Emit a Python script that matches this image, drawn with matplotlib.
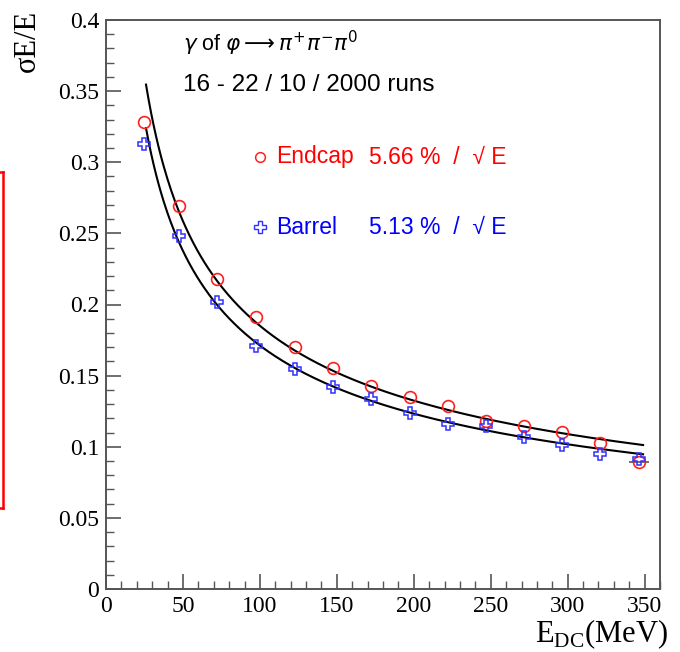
import numpy as np
import matplotlib
matplotlib.use("Agg")
import matplotlib.pyplot as plt
from matplotlib.ticker import MultipleLocator, FuncFormatter
from matplotlib.lines import Line2D

# ---- data ----
energy = [25, 47.5, 72, 97.5, 122.5, 147.5, 172.5, 197.5, 222, 247, 271.5, 296.5, 321, 346.5]
endcap_res = [0.328, 0.269, 0.218, 0.191, 0.1703, 0.1551, 0.1427, 0.1348, 0.1286,
              0.1181, 0.1146, 0.1104, 0.1026, 0.0895]
barrel_res = [0.3126, 0.2484, 0.202, 0.171, 0.1544, 0.1418, 0.1333, 0.1238, 0.116,
              0.1143, 0.1066, 0.1014, 0.0946, 0.0914]
last_point_xerr = 6.5

# fit curves: sigma/E = A * (E/E0)^(-p)
endcap_fit = dict(A=0.352, E0=26.4, p=0.4828)
barrel_fit = dict(A=0.324, E0=26.0, p=0.4737)
fit_range = (26.0, 349.0)

xticks = [0, 50, 100, 150, 200, 250, 300, 350]
yticks = [0, 0.05, 0.1, 0.15, 0.2, 0.25, 0.3, 0.35, 0.4]

W, H = 680, 652
fig = plt.figure(figsize=(W / 100, H / 100), dpi=100)
ax = fig.add_axes([106 / W, 1 - 589 / H, (660 - 106) / W, (589 - 20) / H])

serif = "Liberation Serif"
sans = ["Liberation Sans", "DejaVu Sans"]

ax.plot(energy, endcap_res, linestyle="none", marker="o", ms=8.5, mfc="none",
        mec="#ff2020", mew=1.2, zorder=4)
ax.plot(energy, barrel_res, linestyle="none", marker="P", ms=9, mfc="none",
        mec="#3030ff", mew=1.1, zorder=4)
ax.errorbar([energy[-1]], [endcap_res[-1]], xerr=[last_point_xerr], fmt="none",
            ecolor="#555555", elinewidth=1.2, zorder=3)

xx = np.linspace(fit_range[0], fit_range[1], 400)
for f in (endcap_fit, barrel_fit):
    ax.plot(xx, f["A"] * (xx / f["E0"]) ** (-f["p"]), color="black", lw=1.5, zorder=2)

ax.set_xlim(0, 360)
ax.set_ylim(0, 0.4)
ax.set_xticks(xticks)
ax.set_yticks(yticks)
ax.xaxis.set_minor_locator(MultipleLocator(10))
ax.yaxis.set_minor_locator(MultipleLocator(0.01))
ax.yaxis.set_major_formatter(FuncFormatter(lambda v, p: "%g" % round(v, 3)))
ax.xaxis.set_major_formatter(FuncFormatter(lambda v, p: "%g" % v))

ax.tick_params(which="both", direction="in", color="#555555", top=False, right=False)
ax.tick_params(which="major", length=11, width=1.2, labelsize=17, pad=5)
ax.tick_params(which="minor", length=6, width=1.0)
for lab in ax.get_xticklabels() + ax.get_yticklabels():
    lab.set_fontfamily(serif)
for s in ax.spines.values():
    s.set_color("#555555")
    s.set_linewidth(1.4)

# axis labels
fig.text(27 / W, 1 - 10 / H, "σE/E", rotation=90, ha="center", va="top",
         fontsize=22, family=serif)
fig.text(668 / W, 1 - 642 / H, r"E$_{\mathregular{DC}}$(MeV)", ha="right", va="baseline",
         fontsize=22, family=serif)


def ypix(p):
    return (589 - p) / 569 * 0.4


def xdat(p):
    return (p - 106) / 554 * 360


# annotations
ax.text(xdat(183), ypix(43), r"$\gamma$ of $\varphi\longrightarrow\pi^{+}\pi^{-}\pi^{0}$",
        fontsize=15.5, family=sans, va="center", ha="left")
ax.text(xdat(183), ypix(85), "16 - 22 / 10 / 2000 runs", fontsize=17.5, family=sans,
        va="center", ha="left")

ax.plot([xdat(260)], [ypix(157)], marker="o", ms=7, mfc="none", mec="#ff2020", mew=1.1)
ax.plot([xdat(260)], [ypix(227)], marker="P", ms=8, mfc="none", mec="#3030ff", mew=1.0)
ax.text(xdat(276), ypix(157), "Endcap", color="#ff0000", fontsize=16.5, family=sans, va="center")
ax.text(xdat(369), ypix(157), "5.66 %  /  √ E", color="#ff0000", fontsize=16.5, family=sans, va="center")
ax.text(xdat(276), ypix(227), "Barrel", color="#0000ff", fontsize=16.5, family=sans, va="center")
ax.text(xdat(369), ypix(227), "5.13 %  /  √ E", color="#0000ff", fontsize=16.5, family=sans, va="center")

# red bracket on the left edge
x0 = 3 / W
for seg in (([x0, x0], [1 - 172 / H, 1 - 508 / H]),
            ([0, x0], [1 - 172 / H, 1 - 172 / H]),
            ([0, x0], [1 - 508 / H, 1 - 508 / H])):
    fig.add_artist(Line2D(seg[0], seg[1], color="red", lw=1.8, transform=fig.transFigure))

fig.savefig("out.png", dpi=100)
